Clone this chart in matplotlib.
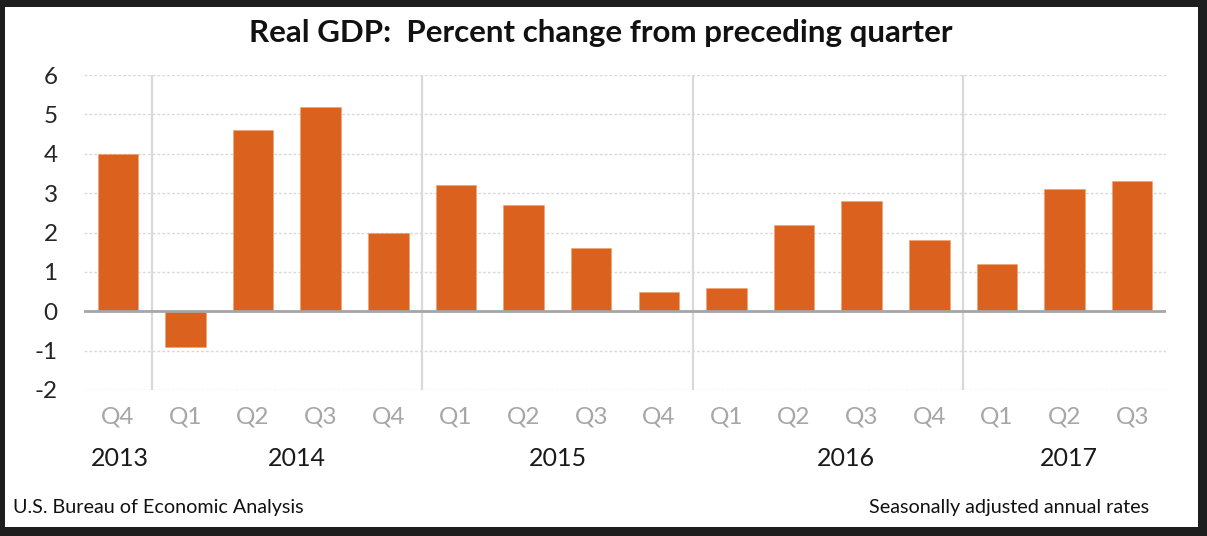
import matplotlib
matplotlib.use("Agg")
import matplotlib.pyplot as plt
import matplotlib.patches as mpatches
import matplotlib.transforms as mtransforms

plt.rcParams["font.family"] = ["Lato", "DejaVu Sans"]

# ── Data ──────────────────────────────────────────────────────────────────────
quarters = ["Q4", "Q1", "Q2", "Q3", "Q4", "Q1", "Q2", "Q3", "Q4",
            "Q1", "Q2", "Q3", "Q4", "Q1", "Q2", "Q3"]
gdp_change = [4.0, -0.9, 4.6, 5.2, 2.0, 3.2, 2.7, 1.6, 0.5,
              0.6, 2.2, 2.8, 1.8, 1.2, 3.1, 3.3]
years = ["2013", "2014", "2015", "2016", "2017"]
year_pos = [0.03, 2.65, 6.51, 10.77, 14.07]     # label centres (category units)
year_breaks = [0.5, 4.5, 8.5, 12.5]              # dividers between years
y_ticks = [-2, -1, 0, 1, 2, 3, 4, 5, 6]

BAR = "#DA621E"
GRID = "#D9D9D9"

W, H = 1207, 536
fig = plt.figure(figsize=(W / 100, H / 100), dpi=100, facecolor="#1E1E1E")

# white panel inside dark frame
fig.patches.append(mpatches.Rectangle((5 / W, 1 - 527 / H), 1193 / W, 520 / H,
                                      transform=fig.transFigure,
                                      facecolor="white", edgecolor="none",
                                      zorder=-5))

ax = fig.add_axes([84 / W, 1 - 390 / H, (1166 - 84) / W, (390 - 75) / H])
ax.set_facecolor("none")
ax.set_zorder(2)

x = list(range(len(gdp_change)))
ax.bar(x, gdp_change, width=0.6, color=BAR, edgecolor="#F0A070",
       linewidth=0.4, zorder=3)

ax.set_xlim(-0.5, len(x) - 0.5)
ax.set_ylim(-2, 6)
ax.set_yticks(y_ticks)
ax.set_yticklabels([str(v) for v in y_ticks])
for v in y_ticks:
    if v != 0:
        ax.axhline(v, color=GRID, lw=1.0, ls=(0, (2, 1.5)), zorder=1)
ax.axhline(0, color="#A6A6A6", lw=2.0, zorder=4)
for b in year_breaks:
    ax.axvline(b, color=GRID, lw=1.6, zorder=2)

for s in ax.spines.values():
    s.set_visible(False)

ax.set_xticks(x)
ax.set_xticklabels(quarters)
ax.tick_params(axis="x", length=0, pad=12, labelsize=17.5, labelcolor="#A6A6A6")
ax.tick_params(axis="y", length=0, pad=19, labelsize=17.5, labelcolor="#262626")

tr = mtransforms.blended_transform_factory(ax.transData, fig.transFigure)
for yr, p in zip(years, year_pos):
    ax.text(p, 1 - 458 / H, yr, transform=tr, ha="center", va="center",
            fontsize=18, color="#1A1A1A")

fig.text(601 / W, 1 - 33 / H, "Real GDP:  Percent change from preceding quarter",
         ha="center", va="center", fontsize=22.5, fontweight="bold",
         color="#111111")
fig.text(13 / W, 1 - 507 / H, "U.S. Bureau of Economic Analysis",
         ha="left", va="center", fontsize=14.2, color="#111111")
fig.text(1149 / W, 1 - 507 / H, "Seasonally adjusted annual rates",
         ha="right", va="center", fontsize=14.2, color="#111111")

fig.savefig("out.png", dpi=100, facecolor=fig.get_facecolor())
